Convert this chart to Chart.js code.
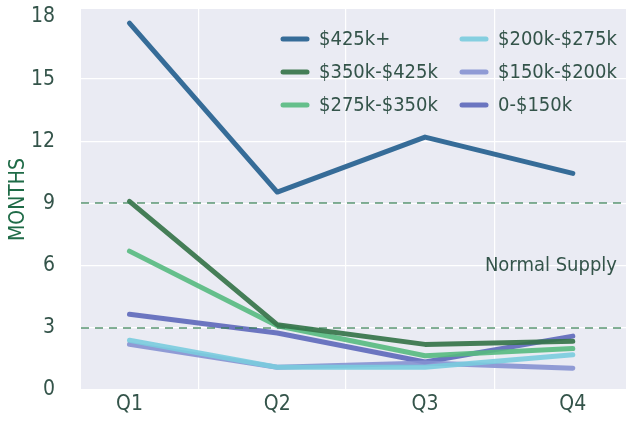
<!DOCTYPE html>
<html>
<head>
<meta charset="utf-8">
<script src="https://cdn.jsdelivr.net/npm/chart.js@4.4.1/dist/chart.umd.min.js"></script>
<style>
  body { margin: 0; background: #ffffff; }
  #wrap { width: 626px; height: 421px; }
</style>
</head>
<body>
<div id="wrap"><canvas id="supply"></canvas></div>
<script>

const quarters = ["Q1", "Q2", "Q3", "Q4"]
const yTicks = [0, 3, 6, 9, 12, 15, 18]

const labels = ["$425k+", "$350k-$425k", "$275k-$350k", "$200k-$275k", "$150k-$200k", "0-$150k"]

const over425 = [17.7, 9.55, 12.2, 10.45]
const from350 = [9.1, 3.15, 2.2, 2.35]
const from275 = [6.7, 3.1, 1.65, 2.0]
const from200 = [2.4, 1.1, 1.1, 1.7]
const from150 = [2.2, 1.1, 1.3, 1.05]
const under150 = [3.65, 2.75, 1.35, 2.6]

// reference band and its label
const bandLines = [9, 3]
const bandLabel = "Normal Supply"
const bandLabelAt = 6

const colors = [
    "rgba(44,101,146,0.95)",
    "rgba(54,116,74,0.92)",
    "rgba(86,186,128,0.9)",
    "rgba(122,204,222,0.9)",
    "rgba(134,146,210,0.9)",
    "rgba(96,106,188,0.92)"
]

const series = [over425, from350, from275, from200, from150, under150]

const font = '"DejaVu Sans Condensed", "Roboto", sans-serif'
const textColor = "#34544a"

const xMin = -0.328
const xMax = 3.36
const gridXs = [0.47, 1.46, 2.47]

const datasets = series.map((vals, i) => ({
    label: labels[i],
    data: vals.map((v, k) => ({ x: k, y: v })),
    borderColor: colors[i],
    backgroundColor: colors[i],
    borderWidth: 5,
    borderCapStyle: "round",
    borderJoinStyle: "round",
    pointRadius: 0,
    tension: 0,
    fill: false,
    xAxisID: "x"
}))

const plotBackground = {
    id: "plotBackground",
    beforeDraw(chart){
        const { ctx, chartArea: a } = chart
        ctx.save()
        ctx.fillStyle = "#eaebf3"
        ctx.fillRect(a.left, a.top, a.right - a.left, a.bottom - a.top)
        ctx.restore()
    }
}

const supplyBand = {
    id: "supplyBand",
    afterDatasetsDraw(chart){
        const { ctx, chartArea: a, scales } = chart
        ctx.save()
        ctx.strokeStyle = "rgba(50,125,80,0.6)"
        ctx.lineWidth = 2
        ctx.setLineDash([8, 6])
        bandLines.forEach(v => {
            const y = Math.round(scales.y.getPixelForValue(v))
            ctx.beginPath()
            ctx.moveTo(a.left, y)
            ctx.lineTo(a.right, y)
            ctx.stroke()
        })
        ctx.setLineDash([])
        ctx.fillStyle = textColor
        ctx.font = "20px " + font
        ctx.textAlign = "right"
        ctx.textBaseline = "middle"
        ctx.fillText(bandLabel, a.right - 9, scales.y.getPixelForValue(bandLabelAt))
        ctx.restore()
    }
}

// two column legend inside the plot
const sideLegend = {
    id: "sideLegend",
    afterDraw(chart){
        const { ctx } = chart
        const cols = [281, 460]
        const rows = [39, 72, 105]
        ctx.save()
        ctx.font = "20px " + font
        ctx.textBaseline = "middle"
        ctx.textAlign = "left"
        chart.data.datasets.forEach((ds, i) => {
            const x = cols[Math.floor(i / 3)]
            const y = rows[i % 3]
            ctx.strokeStyle = ds.borderColor
            ctx.lineWidth = 5
            ctx.lineCap = "round"
            ctx.beginPath()
            ctx.moveTo(x + 2, y)
            ctx.lineTo(x + 26, y)
            ctx.stroke()
            ctx.fillStyle = textColor
            ctx.fillText(ds.label, x + 38, y + 1)
        })
        ctx.restore()
    }
}

new Chart(document.getElementById("supply"), {
    type: "line",
    data: { datasets: datasets },
    plugins: [plotBackground, supplyBand, sideLegend],
    options: {
        responsive: true,
        maintainAspectRatio: false,
        animation: false,
        layout: { padding: { top: 9, right: 0, left: 0, bottom: 0 } },
        plugins: {
            legend: { display: false },
            tooltip: { enabled: false }
        },
        scales: {
            x: {
                type: "linear",
                position: "bottom",
                min: xMin,
                max: xMax,
                afterBuildTicks: s => { s.ticks = quarters.map((q, i) => ({ value: i })) },
                afterFit: s => {
                    s.height = 31
                    s.paddingLeft = 0
                    s.paddingRight = 0
                },
                grid: { display: false, drawTicks: false },
                border: { display: false },
                ticks: {
                    autoSkip: false,
                    maxRotation: 0,
                    padding: 2,
                    color: textColor,
                    font: { family: font, size: 21 },
                    callback: v => quarters[v]
                }
            },
            xg: {
                type: "linear",
                position: "bottom",
                min: xMin,
                max: xMax,
                afterBuildTicks: s => { s.ticks = gridXs.map(v => ({ value: v })) },
                afterFit: s => {
                    s.height = 0
                    s.paddingLeft = 0
                    s.paddingRight = 0
                },
                grid: { color: "#ffffff", lineWidth: 1.2, drawTicks: false },
                border: { display: false },
                ticks: { display: false }
            },
            y: {
                min: 0,
                max: 18.38,
                afterBuildTicks: s => { s.ticks = yTicks.map(v => ({ value: v })) },
                afterFit: s => {
                    s.width = 81
                    s.paddingTop = 0
                    s.paddingBottom = 0
                },
                grid: {
                    drawTicks: false,
                    lineWidth: 1.2,
                    color: c => c.tick && c.tick.value === 18 ? "rgba(0,0,0,0)" : "#ffffff"
                },
                border: { display: false },
                ticks: {
                    padding: 26,
                    color: textColor,
                    font: { family: font, size: 21 }
                },
                title: {
                    display: true,
                    text: "MONTHS",
                    color: "#1f6b47",
                    padding: { top: 6, bottom: 0 },
                    font: { family: font, size: 21 }
                }
            }
        }
    }
})
</script>
</body>
</html>
